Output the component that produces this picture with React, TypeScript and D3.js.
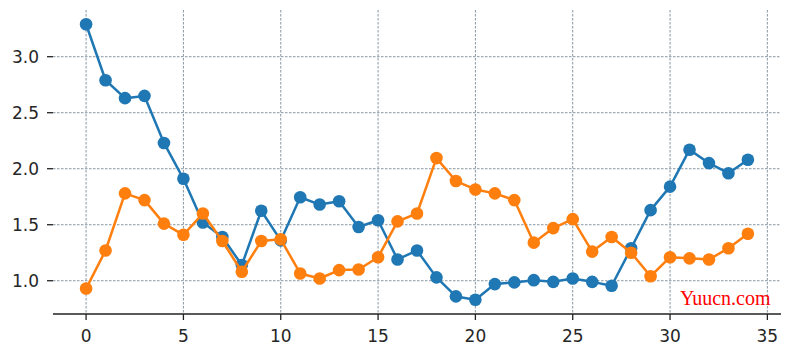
import React from "react";
import * as d3 from "d3";

const xs: number[] = Array.from({ length: 35 }, (_, i) => i);
const blueValues: number[] = [
  3.29, 2.79, 2.63, 2.65, 2.23, 1.91, 1.52, 1.39, 1.14, 1.625,
  1.36, 1.745, 1.68, 1.71, 1.48, 1.54, 1.19, 1.27, 1.03, 0.86,
  0.83, 0.97, 0.985, 1.005, 0.99, 1.02, 0.99, 0.955, 1.29, 1.63,
  1.84, 2.17, 2.05, 1.96, 2.08,
];
const orangeValues: number[] = [
  0.93, 1.27, 1.78, 1.72, 1.51, 1.41, 1.6, 1.355, 1.08, 1.355,
  1.37, 1.065, 1.02, 1.095, 1.1, 1.21, 1.53, 1.6, 2.095, 1.89,
  1.815, 1.78, 1.72, 1.34, 1.47, 1.55, 1.26, 1.39, 1.25, 1.04,
  1.21, 1.2, 1.19, 1.29, 1.42,
];
const xTicks: number[] = [0, 5, 10, 15, 20, 25, 30, 35];
const yTicks: number[] = [1.0, 1.5, 2.0, 2.5, 3.0];
const seriesColors: string[] = ["#1f77b4", "#ff7f0e"];

export default function App() {
  const W = 790, H = 355;
  const left = 53, right = 781, top = 10, bottom = 314;
  const x = d3.scaleLinear().domain([-1.7, 35.7]).range([left, right]);
  const y = d3.scaleLinear().domain([0.703, 3.417]).range([bottom, top]);
  const line = d3.line<number>().x((_, i) => x(xs[i])).y((d) => y(d));
  const gridColor = "#8896a2";
  const series = [blueValues, orangeValues];
  return (
    <svg width={W} height={H} style={{ position: "absolute", left: 0, top: 0, background: "#fff" }}
      fontFamily="DejaVu Sans" >
      {xTicks.map((t) => (
        <line key={"gx" + t} x1={x(t)} x2={x(t)} y1={top} y2={bottom} stroke={gridColor}
          strokeWidth={1} strokeDasharray="2.5,1.5" />
      ))}
      {yTicks.map((t) => (
        <line key={"gy" + t} x1={left} x2={right} y1={y(t)} y2={y(t)} stroke={gridColor}
          strokeWidth={1} strokeDasharray="2.5,1.5" />
      ))}
      {series.map((vals, si) => (
        <g key={"s" + si}>
          <path d={line(vals) || ""} fill="none" stroke={seriesColors[si]} strokeWidth={2.5}
            strokeLinejoin="round" />
          {vals.map((v, i) => (
            <circle key={i} cx={x(xs[i])} cy={y(v)} r={6.3} fill={seriesColors[si]} />
          ))}
        </g>
      ))}
      <line x1={left} x2={right} y1={bottom} y2={bottom} stroke="#222" strokeWidth={1.3} />
      {xTicks.map((t) => (
        <g key={"xt" + t}>
          <line x1={x(t)} x2={x(t)} y1={bottom} y2={bottom + 6} stroke="#222" strokeWidth={1.3} />
          <text x={x(t)} y={bottom + 28} textAnchor="middle" fontSize={17} fill="#262626">{t}</text>
        </g>
      ))}
      {yTicks.map((t) => (
        <g key={"yt" + t}>
          <line x1={left - 6} x2={left} y1={y(t)} y2={y(t)} stroke="#222" strokeWidth={1.3} />
          <text x={39} y={y(t)} dy="0.36em" textAnchor="end" fontSize={17} fill="#262626">{t.toFixed(1)}</text>
        </g>
      ))}
      <text x={680} y={305} fontFamily="Liberation Serif" fontSize={20} fill="#f00">Yuucn.com</text>
    </svg>
  );
}
